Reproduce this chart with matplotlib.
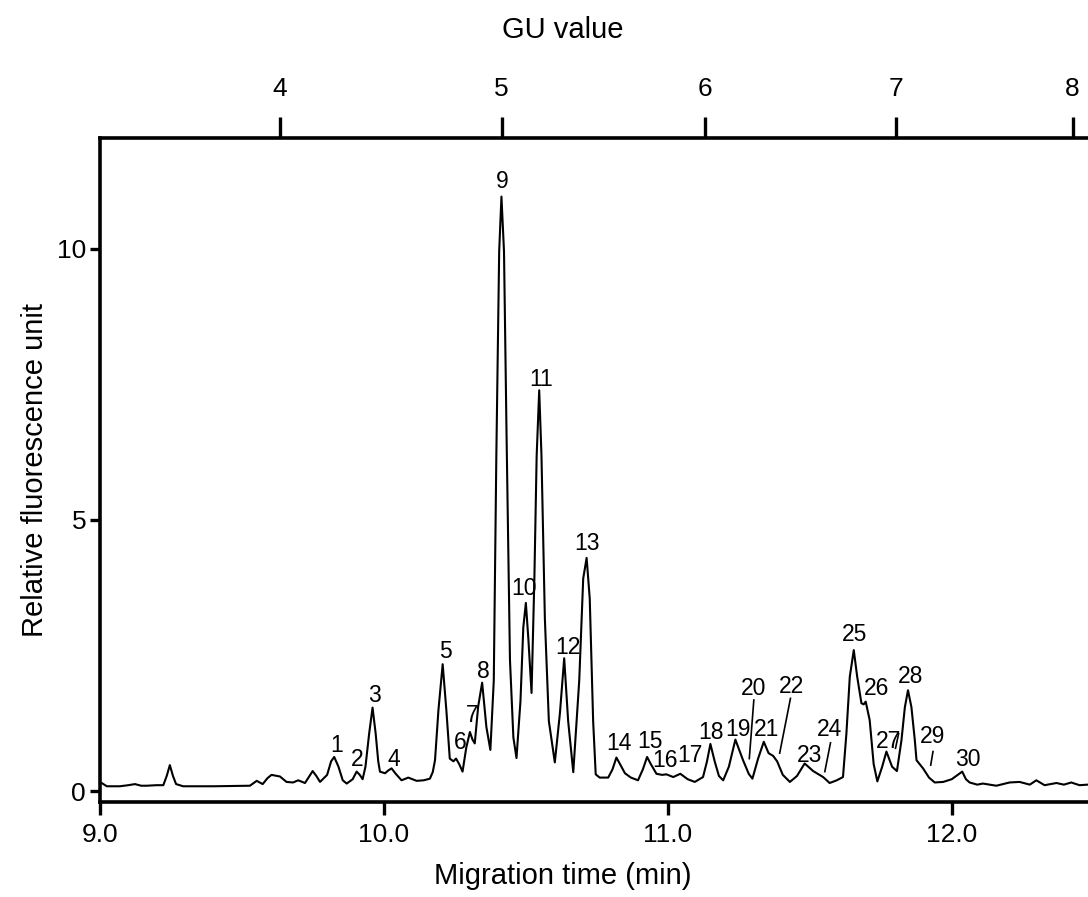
import matplotlib
matplotlib.use("Agg")
import matplotlib.pyplot as plt

# electropherogram trace (migration time in min, RFU)
time_min = [
    9.000, 9.006, 9.024, 9.070, 9.100, 9.123, 9.145, 9.164, 9.200, 9.223,
    9.235, 9.246, 9.257, 9.268, 9.293, 9.400, 9.528, 9.552, 9.573, 9.590,
    9.604, 9.634, 9.657, 9.680, 9.698, 9.722, 9.738, 9.749, 9.762, 9.775,
    9.800, 9.814, 9.825, 9.840, 9.855, 9.869, 9.890, 9.904, 9.915, 9.925,
    9.935, 9.948, 9.960, 9.971, 9.980, 9.986, 10.004, 10.015, 10.027, 10.040,
    10.062, 10.086, 10.115, 10.140, 10.162, 10.172, 10.180, 10.192, 10.207, 10.220,
    10.232, 10.245, 10.254, 10.265, 10.277, 10.290, 10.303, 10.312, 10.320, 10.332,
    10.346, 10.361, 10.375, 10.387, 10.396, 10.406, 10.414, 10.423, 10.432, 10.444,
    10.456, 10.467, 10.481, 10.491, 10.500, 10.509, 10.520, 10.530, 10.538, 10.547,
    10.555, 10.567, 10.581, 10.602, 10.620, 10.635, 10.649, 10.667, 10.688, 10.702,
    10.714, 10.725, 10.737, 10.746, 10.760, 10.790, 10.805, 10.819, 10.849, 10.870,
    10.895, 10.912, 10.927, 10.940, 10.960, 10.980, 10.995, 11.019, 11.044, 11.070,
    11.095, 11.124, 11.138, 11.150, 11.165, 11.180, 11.195, 11.215, 11.238, 11.265,
    11.285, 11.298, 11.318, 11.338, 11.355, 11.371, 11.385, 11.405, 11.430, 11.455,
    11.482, 11.512, 11.547, 11.570, 11.595, 11.617, 11.629, 11.641, 11.655, 11.667,
    11.682, 11.690, 11.697, 11.711, 11.725, 11.738, 11.755, 11.770, 11.790, 11.807,
    11.823, 11.835, 11.846, 11.858, 11.870, 11.876, 11.899, 11.920, 11.940, 11.970,
    12.000, 12.016, 12.037, 12.050, 12.063, 12.090, 12.110, 12.157, 12.204, 12.239,
    12.275, 12.298, 12.327, 12.369, 12.395, 12.421, 12.450, 12.479,
]
rfu = [
    0.15, 0.15, 0.09, 0.09, 0.11, 0.13, 0.10, 0.10, 0.11, 0.11,
    0.28, 0.48, 0.28, 0.13, 0.09, 0.09, 0.10, 0.19, 0.13, 0.24,
    0.30, 0.27, 0.17, 0.16, 0.20, 0.15, 0.28, 0.37, 0.28, 0.17,
    0.30, 0.55, 0.63, 0.45, 0.20, 0.14, 0.22, 0.36, 0.30, 0.22,
    0.45, 1.06, 1.54, 1.06, 0.55, 0.36, 0.33, 0.38, 0.42, 0.33,
    0.20, 0.25, 0.19, 0.20, 0.23, 0.35, 0.57, 1.49, 2.34, 1.49,
    0.60, 0.55, 0.60, 0.50, 0.36, 0.80, 1.09, 0.95, 0.88, 1.56,
    2.00, 1.18, 0.76, 2.04, 6.18, 9.95, 10.96, 9.95, 6.56, 2.42,
    0.99, 0.61, 1.66, 3.02, 3.47, 2.79, 1.81, 3.92, 6.18, 7.39,
    6.18, 3.17, 1.29, 0.53, 1.44, 2.45, 1.29, 0.35, 2.04, 3.92,
    4.30, 3.55, 1.29, 0.31, 0.25, 0.25, 0.40, 0.62, 0.33, 0.25,
    0.20, 0.40, 0.63, 0.50, 0.32, 0.30, 0.31, 0.26, 0.32, 0.22,
    0.17, 0.26, 0.55, 0.87, 0.55, 0.28, 0.20, 0.45, 0.95, 0.57,
    0.32, 0.23, 0.60, 0.91, 0.70, 0.65, 0.55, 0.30, 0.17, 0.28,
    0.51, 0.37, 0.26, 0.15, 0.20, 0.26, 1.06, 2.11, 2.60, 2.11,
    1.62, 1.60, 1.65, 1.31, 0.50, 0.18, 0.45, 0.73, 0.45, 0.37,
    0.94, 1.55, 1.86, 1.55, 0.94, 0.57, 0.42, 0.25, 0.16, 0.17,
    0.22, 0.28, 0.36, 0.22, 0.16, 0.12, 0.14, 0.10, 0.16, 0.17,
    0.12, 0.20, 0.11, 0.15, 0.12, 0.16, 0.11, 0.12,
]

# peak numbers and where they sit
peak_labels = [str(i) for i in range(1, 31)]
label_t = [9.833, 9.907, 9.968, 10.035, 10.217, 10.270, 10.310, 10.352, 10.418, 10.493,
           10.555, 10.649, 10.716, 10.827, 10.939, 10.990, 11.078, 11.153, 11.246, 11.303,
           11.349, 11.435, 11.500, 11.570, 11.658, 11.734, 11.778, 11.856, 11.934, 12.057]
label_v = [0.85, 0.58, 1.77, 0.59, 2.57, 0.89, 1.40, 2.20, 11.23, 3.73,
           7.58, 2.64, 4.56, 0.88, 0.91, 0.56, 0.66, 1.09, 1.13, 1.89,
           1.13, 1.92, 0.65, 1.13, 2.88, 1.89, 0.92, 2.11, 1.00, 0.58]

# leader lines (t0, v0, t1, v1)
leaders = [
    (11.303, 1.68, 11.287, 0.60),   # 20
    (11.432, 1.71, 11.394, 0.70),   # 22
    (11.573, 0.89, 11.553, 0.36),   # 24
    (11.802, 0.79, 11.813, 1.06),   # 27
    (11.934, 0.73, 11.926, 0.48),   # 29
]

# GU scale on top
gu_values = [4, 5, 6, 7, 8]
gu_times = [9.634, 10.415, 11.130, 11.803, 12.426]

W, H = 1088, 897
plt.rcParams['font.family'] = ['Liberation Sans', 'DejaVu Sans']

fig = plt.figure(figsize=(W / 100, H / 100), dpi=100)
ax = fig.add_axes([100 / W, (H - 802) / H, 988 / W, 664 / H])

ax.plot(time_min, rfu, color='black', lw=1.5)

for lab, t, v in zip(peak_labels, label_t, label_v):
    ax.text(t, v, lab, ha='center', va='center', fontsize=16.5)
for t0, v0, t1, v1 in leaders:
    ax.plot([t0, t1], [v0, v1], color='black', lw=1.2)

ax.set_xlim(9.0, 12.48)
ax.set_ylim(-0.2, 12.04)
ax.set_xticks([9.0, 10.0, 11.0, 12.0])
ax.set_xticklabels(['9.0', '10.0', '11.0', '12.0'])
ax.set_yticks([0, 5, 10])

for side in ['left', 'bottom', 'top']:
    ax.spines[side].set_linewidth(2.6)
ax.spines['right'].set_visible(False)
ax.tick_params(axis='x', direction='out', length=9, width=2.4, labelsize=19, pad=6)
ax.tick_params(axis='y', direction='out', length=7, width=2.4, labelsize=19, pad=3)

top = ax.twiny()
top.set_xlim(ax.get_xlim())
top.set_xticks(gu_times)
top.set_xticklabels([str(g) for g in gu_values])
top.tick_params(axis='x', direction='out', length=15, width=2.4, labelsize=19, pad=12)
for s in top.spines.values():
    s.set_visible(False)

fig.text(563 / W, 1 - 30 / H, 'GU value', ha='center', va='center', fontsize=21)
fig.text(563 / W, 1 - 876 / H, 'Migration time (min)', ha='center', va='center', fontsize=21)
fig.text(35 / W, 1 - 470 / H, 'Relative fluorescence unit', ha='center', va='center',
         rotation=90, fontsize=21)

fig.savefig('out.png', dpi=100)
